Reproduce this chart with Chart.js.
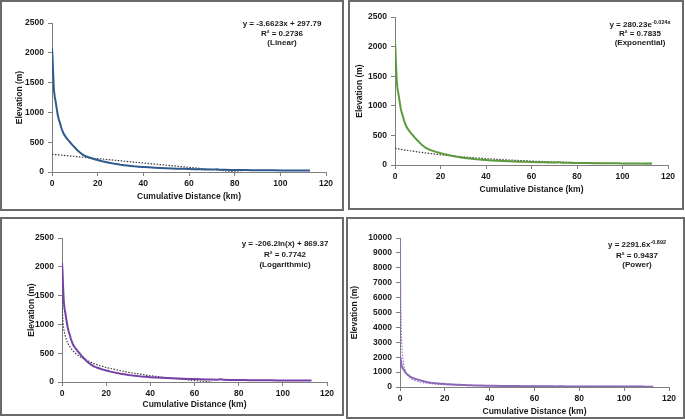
<!DOCTYPE html>
<html>
<head>
<meta charset="utf-8">
<script src="https://cdn.jsdelivr.net/npm/chart.js@4.4.1/dist/chart.umd.min.js"></script>
<style>
  body { margin: 0; background: #fff; width: 685px; height: 419px; overflow: hidden; position: relative; }
  .panel { position: absolute; border: 2px solid #6a6a6a; box-sizing: border-box; background: #fff; }
  .panel canvas { position: absolute; left: 0; top: 0; }
</style>
</head>
<body>
<script>
/* ── data ─────────────────────────────────────────────────────────── */
const distanceKm = [0, 0.2, 0.5, 0.8, 1.2, 1.6, 2, 2.5, 3, 3.5, 4, 5, 6, 7, 8, 9, 10, 11, 12, 13, 14, 15, 16, 18, 20,
  22, 25, 28, 30, 33, 36, 40, 45, 50, 55, 60, 65, 70, 72.5, 73, 76, 80, 85, 90, 95, 100, 105, 110, 113];
const elevationM = [2080, 1950, 1650, 1400, 1260, 1180, 1080, 960, 880, 820, 750, 650, 590, 540, 495, 450, 410, 370, 335, 305, 280, 262, 248, 222, 200,
  180, 155, 135, 122, 108, 96, 84, 72, 63, 56, 50, 45, 41, 48, 38, 36, 34, 32, 30, 29, 27, 26, 25, 24];

// trendlines (values as drawn, from the printed fits)
const linearX = [0, 113];
const linearY = [297.8, -116.1];
const expX = [0, 10, 20, 30, 40, 50, 60, 70, 80, 90, 100, 113];
const expY = [280, 220, 173, 136, 107, 84, 66, 52, 41, 32, 25, 19];
const logX = [0.05, 0.1, 0.2, 0.5, 1, 2, 3, 5, 7, 10, 15, 20, 30, 40, 50, 60, 65, 68];
const logY = [1487, 1344, 1201, 1012, 869, 726, 643, 537, 468, 395, 311, 252, 168, 109, 63, 25, 9, 0];
const powX = [0.15, 0.2, 0.25, 0.35, 0.5, 0.75, 1, 1.5, 2, 3, 5, 7, 10, 15, 20, 30, 40, 60, 80, 100, 113];
const powY = [12445, 9629, 7890, 5830, 4253, 2960, 2292, 1594, 1235, 860, 545, 404, 294, 205, 158, 110, 85, 59, 46, 38, 34];

const xTicks = [0, 20, 40, 60, 80, 100, 120];
const yTicksElev = [0, 500, 1000, 1500, 2000, 2500];
const yTicksPower = [0, 1000, 2000, 3000, 4000, 5000, 6000, 7000, 8000, 9000, 10000];

const eqLinear = [[['y = -3.6623x + 297.79']], [['R² = 0.2736']], [['(Linear)']]];
const eqExp = [[['y = 280.23e'], ['-0.024x', true]], [['R² = 0.7835']], [['(Exponential)']]];
const eqLog = [[['y = -206.2ln(x) + 869.37']], [['R² = 0.7742']], [['(Logarithmic)']]];
const eqPow = [[['y = 2291.6x'], ['-0.892', true]], [['R² = 0.9437']], [['(Power)']]];

/* ── styling ───────────────────────────────────────────────────────── */
const FONT = "'Liberation Sans', Arial, sans-serif";
const AXIS_COLOR = '#7f7f7f';
const TEXT_COLOR = '#1a1a1a';

const pts = (xs, ys) => xs.map((x, i) => ({ x, y: ys[i] }));

const panels = [
  { box: { x: 0, y: 0, w: 344, h: 211 }, plot: { l: 52, t: 23, r: 326, b: 172 },
    yTitleX: 20, xTitleY: 197, yTicks: yTicksElev, yMax: 2500,
    color: '#2f5a8e', trendColor: '#3a3a3a', trendX: linearX, trendY: linearY,
    eq: eqLinear, eqX: 282, eqY: [24, 34, 43] },
  { box: { x: 348, y: 0, w: 336, h: 210 }, plot: { l: 395, t: 17, r: 668, b: 165 },
    yTitleX: 360, xTitleY: 190, yTicks: yTicksElev, yMax: 2500,
    color: '#5c9a3e', trendColor: '#3a3a3a', trendX: expX, trendY: expY,
    eq: eqExp, eqX: 640, eqY: [25, 34, 43] },
  { box: { x: 0, y: 217, w: 344, h: 199 }, plot: { l: 62, t: 238, r: 327, b: 382 },
    yTitleX: 32, xTitleY: 405, yTicks: yTicksElev, yMax: 2500,
    color: '#7540a8', trendColor: '#3a3a3a', trendX: logX, trendY: logY,
    eq: eqLog, eqX: 285, eqY: [244, 255, 265] },
  { box: { x: 346, y: 217, w: 339, h: 202 }, plot: { l: 400, t: 238, r: 669, b: 387 },
    yTitleX: 355, xTitleY: 412, yTicks: yTicksPower, yMax: 10000,
    color: '#8a68b4', trendColor: '#a070c8', trendX: powX, trendY: powY,
    eq: eqPow, eqX: 637, eqY: [245, 256, 265] },
];

/* ── equation label plugin ─────────────────────────────────────────── */
const equationLabel = {
  id: 'equationLabel',
  afterDatasetsDraw(chart, args, opts) {
    const { ctx } = chart;
    ctx.save();
    ctx.fillStyle = TEXT_COLOR;
    ctx.textBaseline = 'middle';
    ctx.textAlign = 'left';
    opts.lines.forEach((line, li) => {
      const widths = line.map(([t, sup]) => {
        ctx.font = `bold ${sup ? 5.5 : 8}px ${FONT}`;
        return ctx.measureText(t).width;
      });
      const total = widths.reduce((a, b) => a + b, 0);
      let x = opts.x - total / 2;
      line.forEach(([t, sup], i) => {
        ctx.font = `bold ${sup ? 5.5 : 8}px ${FONT}`;
        ctx.fillText(t, x, opts.y[li] - (sup ? 3 : 0));
        x += widths[i];
      });
    });
    ctx.restore();
  },
};

panels.forEach(p => {
  const div = document.createElement('div');
  div.className = 'panel';
  Object.assign(div.style, { left: p.box.x + 'px', top: p.box.y + 'px', width: p.box.w + 'px', height: p.box.h + 'px' });
  document.body.appendChild(div);

  const ox = p.box.x + 2, oy = p.box.y + 2;
  const W = p.box.w - 4, H = p.box.h - 4;
  const canvas = document.createElement('canvas');
  canvas.width = W; canvas.height = H;
  div.appendChild(canvas);

  const titleFont = { family: FONT, size: 8.5, weight: 'bold', lineHeight: 1.2 };
  const tickFont = { family: FONT, size: 8.5, weight: 'bold' };
  const lh = 10.2;

  new Chart(canvas, {
    type: 'scatter',
    data: {
      datasets: [
        {
          data: pts(distanceKm, elevationM),
          showLine: true,
          borderColor: p.color,
          borderWidth: 2,
          borderJoinStyle: 'round',
          pointRadius: 0,
          tension: 0.05,   // non-zero: avoids the fast path that merges same-pixel points
        },
        {
          data: pts(p.trendX, p.trendY),
          showLine: true,
          borderColor: p.trendColor,
          borderWidth: 1.2,
          borderDash: [1.5, 1.5],
          pointRadius: 0,
          tension: 0,
        },
      ],
    },
    options: {
      responsive: false,
      animation: false,
      layout: {
        padding: { left: 0, top: p.plot.t - oy, right: W - (p.plot.r - ox), bottom: 0 },
      },
      plugins: {
        legend: { display: false },
        tooltip: { enabled: false },
        equationLabel: { lines: p.eq, x: p.eqX - ox, y: p.eqY.map(v => v - oy) },
      },
      scales: {
        x: {
          type: 'linear',
          min: 0, max: 120,
          afterBuildTicks: s => { s.ticks = xTicks.map(v => ({ value: v })); },
          afterFit: s => { s.height = H - (p.plot.b - oy); },
          ticks: { color: TEXT_COLOR, padding: 3, maxRotation: 0, autoSkip: false, font: tickFont, callback: v => String(v) },
          grid: { drawOnChartArea: false, drawTicks: true, tickLength: 4, color: AXIS_COLOR },
          border: { color: AXIS_COLOR, width: 1 },
          title: {
            display: true,
            text: 'Cumulative Distance (km)',
            color: TEXT_COLOR,
            font: titleFont,
            padding: { top: 0, bottom: H - (p.xTitleY - oy) - lh / 2 },
          },
        },
        y: {
          type: 'linear',
          min: 0, max: p.yMax,
          afterBuildTicks: s => { s.ticks = p.yTicks.map(v => ({ value: v })); },
          afterFit: s => { s.width = p.plot.l - ox; },
          ticks: { color: TEXT_COLOR, padding: 4, autoSkip: false, font: tickFont, callback: v => String(v) },
          grid: { drawOnChartArea: false, drawTicks: true, tickLength: 4, color: AXIS_COLOR },
          border: { color: AXIS_COLOR, width: 1 },
          title: {
            display: true,
            text: 'Elevation (m)',
            color: TEXT_COLOR,
            font: titleFont,
            padding: { top: (p.yTitleX - ox) - lh / 2, bottom: 0 },
          },
        },
      },
    },
    plugins: [equationLabel],
  });
});
</script>
</body>
</html>
